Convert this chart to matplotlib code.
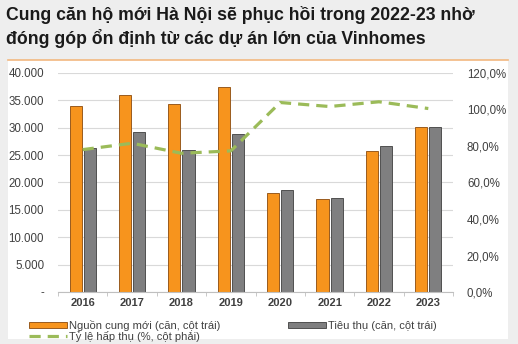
import numpy as np
import matplotlib.pyplot as plt
from matplotlib.patches import Rectangle
from matplotlib.lines import Line2D
from matplotlib.ticker import FixedLocator, FuncFormatter

plt.rcParams['font.family'] = ['Liberation Sans', 'DejaVu Sans']

years = ['2016', '2017', '2018', '2019', '2020', '2021', '2022', '2023']
supply = [34000, 36000, 34300, 37400, 18100, 17000, 25800, 30100]     # căn
sold = [26300, 29300, 25900, 28800, 18600, 17200, 26700, 30100]       # căn
absorption = [78.0, 81.5, 76.0, 77.3, 103.8, 101.6, 104.2, 100.5]     # %

title = 'Cung căn hộ mới Hà Nội sẽ phục hồi trong 2022-23 nhờ\nđóng góp ổn định từ các dự án lớn của Vinhomes'
lbl_supply = 'Nguồn cung mới (căn, cột trái)'
lbl_sold = 'Tiêu thụ (căn, cột trái)'
lbl_rate = 'Tỷ lệ hấp thụ (%, cột phải)'

c_orange = '#F7941D'
c_gray = '#7F7F80'
c_green = '#9BBB59'
c_text = '#404040'

fig = plt.figure(figsize=(5.18, 3.44), dpi=100, facecolor='#EEEEEE')

# white panel with orange rule on top
fig.patches.append(Rectangle((8 / 518, 0.015), 500 / 518, 0.81, transform=fig.transFigure,
                             facecolor='white', edgecolor='none', zorder=-10))
fig.lines.append(Line2D([8 / 518, 508 / 518], [0.826, 0.826], transform=fig.transFigure,
                        color='#F2B880', lw=1.2, zorder=-9))

fig.text(6 / 518, 0.982, title, ha='left', va='top', fontsize=12.7, fontweight='bold',
         color='#1A1A1A', linespacing=1.3)

ax = fig.add_axes([58 / 518, 0.151, 395 / 518, 0.637])
ax.set_facecolor('none')
x = np.arange(len(years))
w = 0.245
ax.bar(x - w / 2 - 0.02, supply, w, color=c_orange, edgecolor='#9A5B1E', lw=0.7,
       label=lbl_supply, zorder=2)
ax.bar(x + w / 2 + 0.02, sold, w, color=c_gray, edgecolor='#505050', lw=0.7,
       label=lbl_sold, zorder=2)
ax.set_ylim(0, 40000)
ax.set_xlim(-0.5, len(years) - 0.5)
ax.set_yticks(np.arange(0, 40001, 5000))
ax.yaxis.set_major_formatter(FuncFormatter(
    lambda v, p: '-' if v == 0 else f'{int(v):,}'.replace(',', '.')))
ax.grid(axis='y', color='#D9D9D9', lw=0.8, zorder=0)
ax.set_axisbelow(True)
ax.set_xticks(x)
ax.set_xticklabels(years, fontweight='bold')
ax.xaxis.set_minor_locator(FixedLocator(np.arange(-0.5, len(years), 1)))
ax.tick_params(axis='x', which='major', length=0, pad=4, labelsize=8, labelcolor=c_text)
ax.tick_params(axis='x', which='minor', length=3, color='#BFBFBF')
ax.tick_params(axis='y', length=0, pad=10, labelsize=8.3, labelcolor=c_text)
for s in ['top', 'right', 'left']:
    ax.spines[s].set_visible(False)
ax.spines['bottom'].set_color('#BFBFBF')

ax2 = ax.twinx()
ax2.plot(x, absorption, color=c_green, lw=2.3, ls=(0, (3.5, 2.2)), label=lbl_rate, zorder=3)
ax2.set_ylim(0, 120)
ax2.set_yticks(np.arange(0, 121, 20))
ax2.yaxis.set_major_formatter(FuncFormatter(lambda v, p: f'{v:.1f}%'.replace('.', ',')))
ax2.tick_params(axis='y', length=0, pad=10, labelsize=8.3, labelcolor=c_text)
for s in ax2.spines.values():
    s.set_visible(False)

h1, l1 = ax.get_legend_handles_labels()
h2, l2 = ax2.get_legend_handles_labels()
fig.legend([h1[0], h2[0], h1[1]], [l1[0], l2[0], l1[1]], ncol=2,
           loc='lower left', bbox_to_anchor=(21 / 518, -0.016), frameon=False,
           fontsize=8, labelcolor=c_text, handlelength=3.4, handleheight=0.45,
           handletextpad=0.2, columnspacing=6.1, labelspacing=0.0,
           borderaxespad=0.3)

fig.savefig('out.png', dpi=100, facecolor=fig.get_facecolor())
